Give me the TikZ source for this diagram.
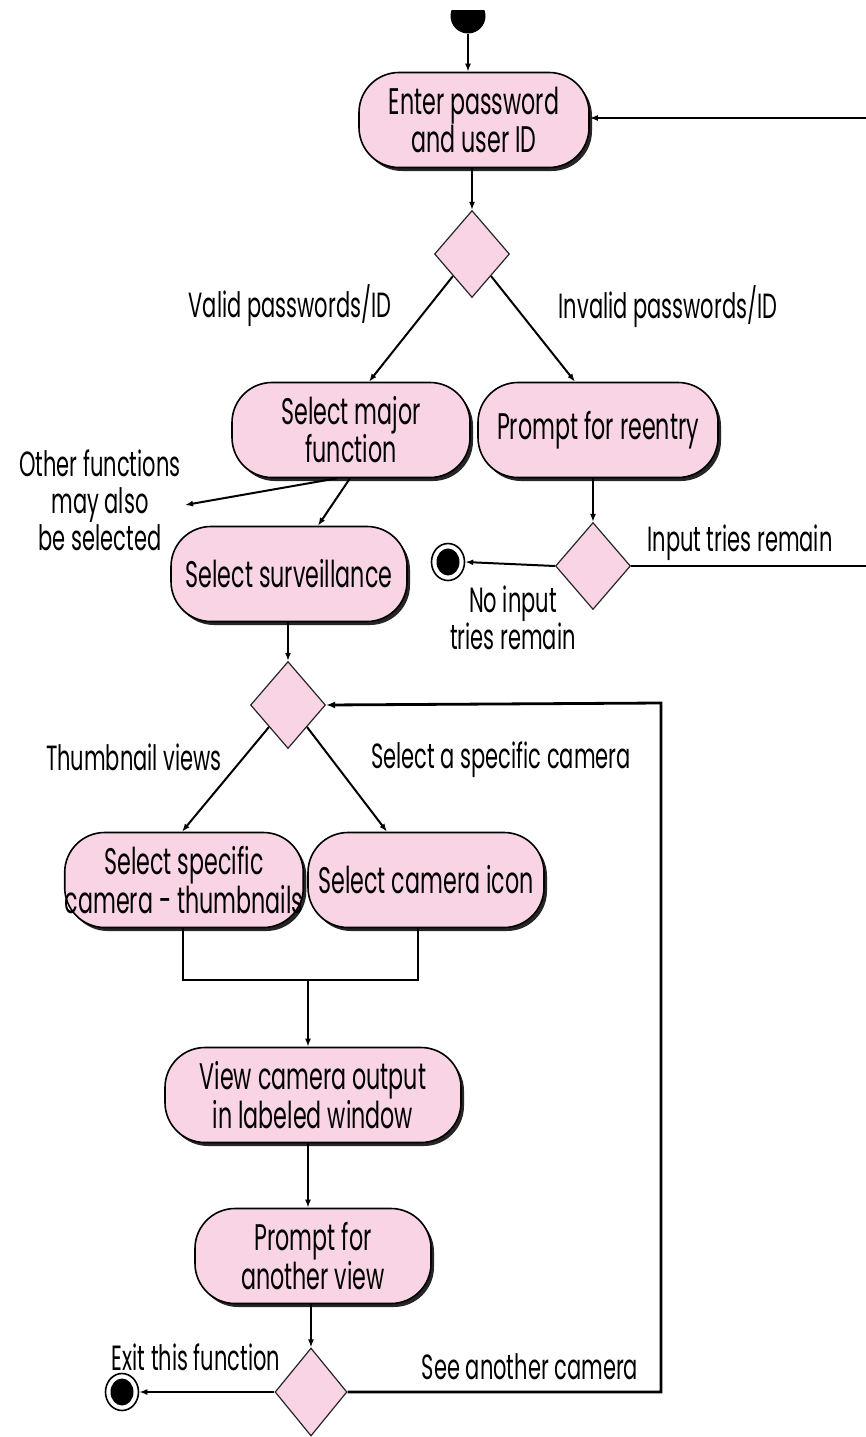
\documentclass[tikz,border=0pt]{standalone}
\usepackage{fontspec}
\setmainfont{Poppins}[FakeStretch=0.6]
\usetikzlibrary{shapes.geometric,shadows,arrows.meta}
\definecolor{pinkfill}{RGB}{249,212,228}
\tikzset{
  act/.style={draw=black,line width=1.6pt,fill=pinkfill,rounded corners=40pt,
    minimum height=95pt,align=center,inner sep=0pt,
    font=\fontsize{37}{38}\selectfont,
    drop shadow={shadow xshift=3pt,shadow yshift=-3.5pt,fill=black!85,opacity=1}},
  dec/.style={diamond,draw=black!85,line width=1.2pt,fill=pinkfill,inner sep=0pt,
    minimum width=75pt,minimum height=87pt},
  lbl/.style={align=center,inner sep=0pt,font=\fontsize{35}{36}\selectfont},
  finalnode/.style={ellipse,draw=black,line width=1.6pt,fill=white,inner sep=0pt,
    minimum width=33pt,minimum height=37pt,
    path picture={\fill[black] (path picture bounding box.center) ellipse (11.5pt and 13.5pt);}},
  conn/.style={line width=2pt,-{Latex[length=8pt,width=6pt]}},
  plain/.style={line width=2pt},
  loopline/.style={line width=2.8pt}
}
\begin{document}
\begin{tikzpicture}[x=1pt,y=-1pt]
\useasboundingbox (0,0) rectangle (866,1437);
\begin{scope}
\clip (0,11) rectangle (866,1437);
% nodes
\node[circle,fill=black,minimum size=35pt,inner sep=0pt] (start) at (468,16) {};
\node[act,minimum width=230pt] (box1) at (474,120) {Enter password\\and user ID};
\node[dec] (d1) at (472,254) {};
\node[act,minimum width=238pt] (box2) at (351,430) {Select major\\function};
\node[act,minimum width=240pt] (box3) at (598,430) {Prompt for reentry};
\node[dec] (d3) at (593,566) {};
\node[finalnode] (f1) at (448,562) {};
\node[act,minimum width=236pt] (box4) at (289,574) {Select surveillance};
\node[dec] (d2) at (288,705) {};
\node[act,minimum width=234pt,font=\fontsize{37}{30}\selectfont] (box5) at (184,880) {Select specific\\camera - thumbnails};
\node[act,minimum width=236pt] (box6) at (426,880) {Select camera icon};
\node[act,minimum width=296pt,font=\fontsize{37}{30}\selectfont] (box7) at (313,1095) {View camera output\\in labeled window};
\node[act,minimum width=236pt,font=\fontsize{37}{34}\selectfont] (box8) at (313,1256) {Prompt for\\another view};
\node[dec,minimum width=72pt,minimum height=88pt] (d4) at (311,1392) {};
\node[finalnode] (f2) at (122,1392) {};
% labels
\node[lbl] (lvalid) at (290,306) {Valid passwords/ID};
\node[lbl] (linvalid) at (668,307) {Invalid passwords/ID};
\node[lbl,font=\fontsize{35}{37}\selectfont] (lothers) at (100,500) {Other functions\\may also\\be selected};
\node[lbl] (ltries) at (740,543) {Input tries remain};
\node[lbl,font=\fontsize{35}{26}\selectfont] (lnoinput) at (513,618) {No input\\tries remain};
\node[lbl] (lthumb) at (134,757) {Thumbnail views};
\node[lbl] (lspec) at (501,760) {Select a specific camera};
\node[lbl] (lexit) at (196,1357) {Exit this function};
\node[lbl] (lsee) at (530,1367) {See another camera};
% coordinates
\coordinate (rtop) at (866,118);
\coordinate (rmid) at (866,566);
\coordinate (oth) at (185,505);
\coordinate (jl) at (183,980);
\coordinate (jr) at (418,980);
\coordinate (jm) at (308,980);
\coordinate (lp1) at (661,1392);
\coordinate (lp2) at (661,703);
% connectors
\draw[conn] (start.south) -- (start.south |- box1.north);
\draw[conn] (rtop) -- (rtop -| box1.east);
\draw[conn] (box1.south -| d1.north) -- (d1.north);
\draw[conn] (d1.south west) -- ([xshift=18pt]box2.north);
\draw[conn] (d1.south east) -- ([xshift=-23pt]box3.north);
\draw[conn] ([xshift=-14pt]box2.south) -- (oth);
\draw[conn] ([xshift=-1pt]box2.south) -- ([xshift=29pt]box4.north);
\draw[conn] (box3.south -| d3.north) -- (d3.north);
\draw[conn] (d3.west) -- (f1.east);
\draw[plain] (d3.east) -- (rmid);
\draw[conn] (box4.south -| d2.north) -- (d2.north);
\draw[conn] (d2.south west) -- ([xshift=-2pt]box5.north);
\draw[conn] (d2.south east) -- ([xshift=-39pt]box6.north);
\draw[plain] (jl |- box5.south) -- (jl) -- (jr) -- (jr |- box6.south);
\draw[conn] (jm) -- (jm |- box7.north);
\draw[conn] (box7.south -| jm) -- (jm |- box8.north);
\draw[conn] (box8.south -| d4.north) -- (d4.north);
\draw[conn] (d4.west) -- (f2.east);
\draw[loopline,-{Latex[length=9pt,width=7pt]}] (d4.east) -- (lp1) -- (lp2) -- (d2.east);
\end{scope}
\end{tikzpicture}
\end{document}
